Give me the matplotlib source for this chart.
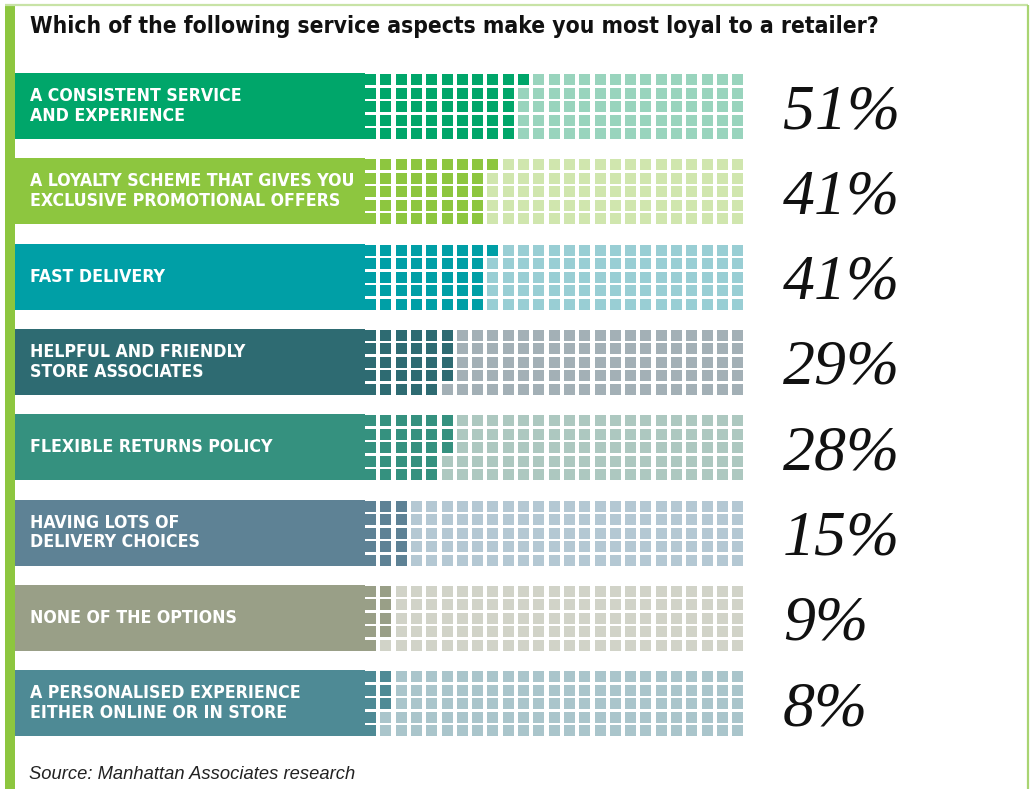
import matplotlib
matplotlib.use("Agg")
import matplotlib.pyplot as plt
from matplotlib.patches import Rectangle

# survey answers, top to bottom
labels = [
    "A CONSISTENT SERVICE\nAND EXPERIENCE",
    "A LOYALTY SCHEME THAT GIVES YOU\nEXCLUSIVE PROMOTIONAL OFFERS",
    "FAST DELIVERY",
    "HELPFUL AND FRIENDLY\nSTORE ASSOCIATES",
    "FLEXIBLE RETURNS POLICY",
    "HAVING LOTS OF\nDELIVERY CHOICES",
    "NONE OF THE OPTIONS",
    "A PERSONALISED EXPERIENCE\nEITHER ONLINE OR IN STORE",
]
values = [51, 41, 41, 29, 28, 15, 9, 8]

title = "Which of the following service aspects make you most loyal to a retailer?"
source = "Source: Manhattan Associates research"

dark = ["#00a66a", "#8dc63f", "#009fa6", "#2e6b72", "#35917f", "#5e8295", "#999f87", "#4e8a95"]
light = ["#99d4bd", "#d0e6ae", "#99ced4", "#a3b0b6", "#adc8c0", "#b4c8d3", "#d1d3c8", "#aac5cb"]

W, H = 1031, 789
fig = plt.figure(figsize=(W / 100, H / 100), dpi=100)
ax = fig.add_axes([0, 0, 1, 1])
ax.set_xlim(0, W)
ax.set_ylim(H, 0)
ax.axis("off")
renderer = fig.canvas.get_renderer()


def fit_width(txt, target):
    bb = txt.get_window_extent(renderer)
    txt.set_fontsize(txt.get_fontsize() * target / bb.width)


# frame
ax.add_patch(Rectangle((5, 5), 10, H, color="#8dc63f", lw=0))
ax.plot([5, 1028], [5, 5], color="#c8e3a6", lw=1.6, solid_capstyle="butt")
ax.plot([1028, 1028], [5, H], color="#a9d472", lw=1.6, solid_capstyle="butt")

t = ax.text(30, 26, title, fontsize=18, fontweight="bold", family="DejaVu Sans",
            fontstretch="condensed", va="center", ha="left", color="#111111")
fit_width(t, 848)

ROWS, COLS = 5, 25
bar_x0, bar_x1 = 15, 365
bar_h = 66
pitch_x, pitch_y, sq = 15.3, 13.5, 11

label_texts = []
for i, (lab, val) in enumerate(zip(labels, values)):
    top = 73 + i * 85.3
    ax.add_patch(Rectangle((bar_x0, top), bar_x1 - bar_x0, bar_h, color=dark[i], lw=0))
    for c in range(COLS):
        for r in range(ROWS):
            k = c * ROWS + r
            col = dark[i] if k < val else light[i]
            ax.add_patch(Rectangle((bar_x1 + c * pitch_x, top + 1 + r * pitch_y), sq, sq,
                                   color=col, lw=0))
    lt = ax.text(30, top + bar_h / 2, lab, color="white", fontsize=14, fontweight="bold",
                 family="DejaVu Sans", fontstretch="condensed", va="center", ha="left",
                 linespacing=1.12)
    label_texts.append(lt)
    ax.text(783, top + bar_h / 2 + 22, f"{val}%", fontsize=46, style="italic",
            family="Liberation Serif", va="baseline", ha="left", color="#111111")

# one size for all labels, set by the widest one
widths = [lt.get_window_extent(renderer).width for lt in label_texts]
scale = 325 / widths[1]
for lt in label_texts:
    lt.set_fontsize(lt.get_fontsize() * scale)

s = ax.text(29, 779, source, fontsize=12, style="italic", family="Liberation Sans",
            va="baseline", ha="left", color="#222222")
fit_width(s, 326)

fig.savefig("out.png", dpi=100)
